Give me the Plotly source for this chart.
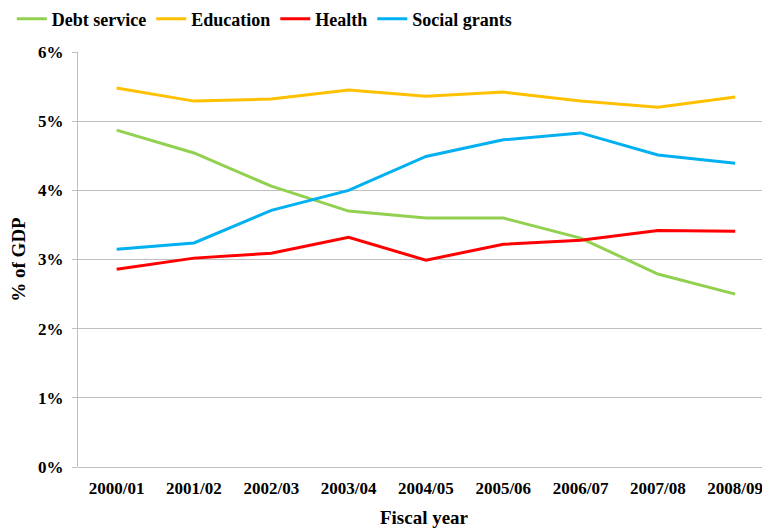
import plotly.graph_objects as go

years = ["2000/01", "2001/02", "2002/03", "2003/04", "2004/05",
         "2005/06", "2006/07", "2007/08", "2008/09"]
debt_service = [4.87, 4.54, 4.06, 3.70, 3.60, 3.60, 3.31, 2.79, 2.50]
education = [5.48, 5.29, 5.32, 5.45, 5.36, 5.42, 5.29, 5.20, 5.35]
health = [2.86, 3.02, 3.09, 3.32, 2.99, 3.22, 3.28, 3.42, 3.41]
social_grants = [3.15, 3.24, 3.71, 4.00, 4.49, 4.73, 4.83, 4.51, 4.39]
y_ticks = [0, 1, 2, 3, 4, 5, 6]
y_labels = ["0%", "1%", "2%", "3%", "4%", "5%", "6%"]

series = [
    ("Debt service", debt_service, "#92d050"),
    ("Education", education, "#ffc000"),
    ("Health", health, "#ff0000"),
    ("Social grants", social_grants, "#00b0f0"),
]

font_family = "Liberation Serif"

fig = go.Figure()
for name, vals, color in series:
    fig.add_trace(go.Scatter(
        x=list(range(len(years))), y=vals, name="<b>" + name + "</b>", mode="lines",
        line=dict(color=color, width=3),
    ))

fig.update_layout(
    width=762, height=523,
    margin=dict(l=70, r=0, t=44, b=64),
    paper_bgcolor="white", plot_bgcolor="white",
    font=dict(family=font_family, color="black"),
    showlegend=True,
    legend=dict(
        orientation="h", xref="container", x=0.337, xanchor="center",
        yref="container", y=0.979, yanchor="middle",
        font=dict(size=18, family=font_family, color="black"),
        itemwidth=30, tracegroupgap=0,
    ),
    xaxis=dict(
        tickmode="array", tickvals=list(range(len(years))),
        ticktext=["<b>" + y + "</b>" for y in years],
        range=[-0.5, 8.45], showgrid=False, zeroline=False,
        showline=False, ticks="", ticklabelstandoff=9,
        tickfont=dict(size=17, family=font_family),
        title=dict(text="<b>Fiscal year</b>", font=dict(size=19, family=font_family), standoff=13),
    ),
    yaxis=dict(
        range=[0, 6], tickmode="array", tickvals=y_ticks,
        ticktext=["<b>" + t + "</b>" for t in y_labels],
        showgrid=True, gridcolor="#bfbfbf", gridwidth=1,
        zeroline=True, zerolinecolor="#bfbfbf", zerolinewidth=1,
        showline=True, linecolor="#bfbfbf", linewidth=1,
        ticks="outside", ticklen=5, tickcolor="#bfbfbf", ticklabelstandoff=5,
        tickfont=dict(size=17, family=font_family),
        title=dict(text="<b>% of GDP</b>", font=dict(size=19, family=font_family), standoff=11),
    ),
)

fig.write_html("out.html")
